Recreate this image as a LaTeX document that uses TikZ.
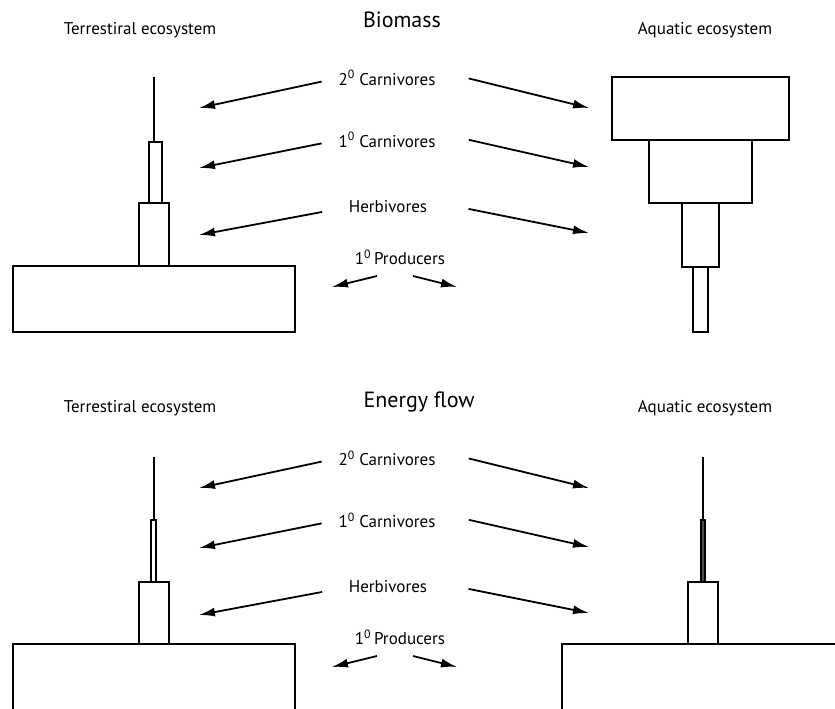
\documentclass[tikz,border=0pt]{standalone}
\usepackage{fontspec}
\setmainfont{PT Sans}
\usetikzlibrary{arrows.meta, positioning}

\tikzset{
  arr/.style={-{Latex[length=16pt,width=9pt]}, line width=1.8pt},
  box/.style={draw, line width=1.5pt},
  lbl/.style={font=\fontsize{17}{20}\selectfont, inner sep=0pt},
  ttl/.style={font=\fontsize{22}{26}\selectfont, inner sep=0pt}
}

\begin{document}
\begin{tikzpicture}[x=1pt, y=-1pt]
\useasboundingbox (0,0) rectangle (835,709);

% Titles
\node[ttl] (bioTitle) at (402,20) {Biomass};
\node[ttl] (enTitle) at (419,402) {Energy flow};
\node[lbl] (terA) at (140,30) {Terrestiral ecosystem};
\node[lbl] (aquA) at (705,30) {Aquatic ecosystem};
\node[lbl] (terB) at (140,408) {Terrestiral ecosystem};
\node[lbl] (aquB) at (705,408) {Aquatic ecosystem};

% Trophic labels and arrows, same for both panels (b is set down by 380)
\foreach \o/\p in {0/a, 380/b}
{
    \node[lbl] (car2\p) at (387,78+\o) {2\textsuperscript{0} Carnivores};
    \node[lbl] (car1\p) at (387,140+\o) {1\textsuperscript{0} Carnivores};
    \node[lbl] (herb\p) at (388,207+\o) {Herbivores};
    \node[lbl] (prod\p) at (400,257+\o) {1\textsuperscript{0}\,Producers};

    \coordinate (car2L\p) at (199,108+\o);
    \coordinate (car1L\p) at (199,168+\o);
    \coordinate (herbL\p) at (199,235+\o);
    \coordinate (car2R\p) at (589,108+\o);
    \coordinate (car1R\p) at (589,167+\o);
    \coordinate (herbR\p) at (589,233+\o);
    \coordinate (prodS\p) at (377,276+\o);
    \coordinate (prodL\p) at (332,287+\o);
    \coordinate (prodT\p) at (413,276+\o);
    \coordinate (prodR\p) at (457,287+\o);

    \draw[arr, shorten <=17pt] (car2\p.west) -- (car2L\p);
    \draw[arr, shorten <=17pt] (car1\p.west) -- (car1L\p);
    \draw[arr, shorten <=27pt] (herb\p.west) -- (herbL\p);
    \draw[arr, shorten <=34pt] (car2\p.north east) -- (car2R\p);
    \draw[arr, shorten <=34pt] (car1\p.north east) -- (car1R\p);
    \draw[arr, shorten <=42pt] (herb\p.north east) -- (herbR\p);
    \draw[arr] (prodS\p) -- (prodL\p);
    \draw[arr] (prodT\p) -- (prodR\p);
}

% Biomass, terrestrial pyramid
\draw[line width=1.5pt] (154,77) -- (154,142);
\draw[box] (149,142) rectangle (162,203);
\draw[box] (139,203) rectangle (169,266);
\draw[box] (13,266) rectangle (295,332);

% Biomass, aquatic pyramid (upside down)
\draw[box] (612,77) rectangle (789,140);
\draw[box] (649,140) rectangle (752,203);
\draw[box] (682,203) rectangle (719,267);
\draw[box] (693,267) rectangle (708,332);

% Energy flow, terrestrial
\draw[line width=1.5pt] (154,457) -- (154,520);
\draw[box] (151,520) rectangle (156,582);
\draw[box] (139,582) rectangle (169,644);
\draw[box] (13,709) -- (13,644) -- (295,644) -- (295,709);

% Energy flow, aquatic
\draw[line width=1.5pt] (703,457) -- (703,520);
\draw[box, fill=black!70] (701,520) rectangle (705,582);
\draw[box] (688,582) rectangle (718,644);
\draw[box] (562,709) -- (562,644) -- (835,644);

\end{tikzpicture}
\end{document}
